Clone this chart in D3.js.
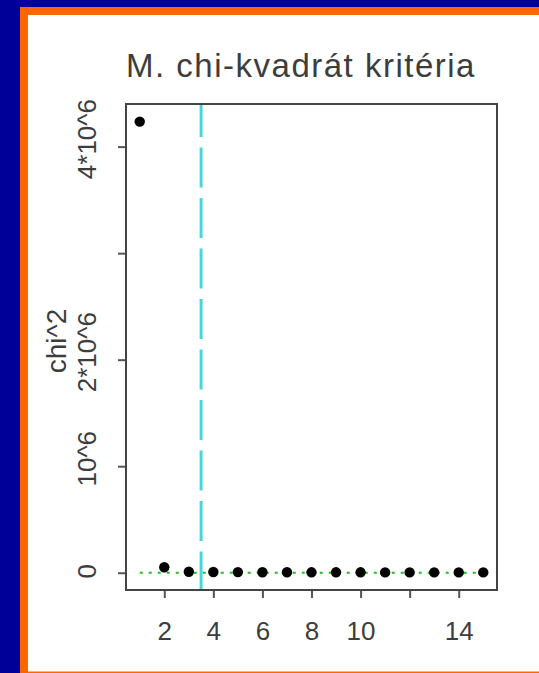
<!DOCTYPE html>
<html>
<head>
<meta charset="utf-8">
<script src="https://cdn.jsdelivr.net/npm/d3@7"></script>
<style>
  html, body { margin: 0; padding: 0; background: #000099; }
  svg { display: block; }
  text { font-family: "Liberation Sans", Arial, Helvetica, sans-serif; }
</style>
</head>
<body>
<svg id="chart" width="539" height="673"></svg>
<script>
// ---- data ----
const clusters = [1, 2, 3, 4, 5, 6, 7, 8, 9, 10, 11, 12, 13, 14, 15];
const chiValues = [4235000, 52000, 9000, 7000, 6000, 5000, 5000, 4000, 4000, 4000, 3000, 3000, 3000, 3000, 3000];
const critValues = [0, 0, 0, 0, 0, 0, 0, 0, 0, 0, 0, 0, 0, 0, 0];
const cutoff = 3.5;
const xTickValues = [2, 4, 6, 8, 10, 12, 14];
const xTickLabels = ["2", "4", "6", "8", "10", "", "14"];
const yTickValues = [0, 1000000, 2000000, 3000000, 4000000];
const yTickLabels = ["0", "10^6", "2*10^6", "", "4*10^6"];
const titleText = "M. chi-kvadrát kritéria";
const yLabelText = "chi^2";

// ---- layout ----
const W = 539, H = 673;
const box = { left: 126, top: 104, right: 497, bottom: 590 };

const svg = d3.select("#chart");

// frame
svg.append("rect").attr("x", 0).attr("y", 0).attr("width", W).attr("height", H).attr("fill", "#000099");
svg.append("rect").attr("x", 20).attr("y", 7).attr("width", W - 20).attr("height", H - 7).attr("fill", "#ff6600");
svg.append("rect").attr("x", 28).attr("y", 15).attr("width", W - 28).attr("height", 656.5).attr("fill", "#ffffff");

// scales
const x = d3.scaleLinear().domain([0.44, 15.56]).range([box.left, box.right]);
const y = d3.scaleLinear().domain([-162000, 4400000]).range([box.bottom, box.top]);

// title
svg.append("text")
  .attr("x", 301).attr("y", 77)
  .attr("text-anchor", "middle")
  .attr("font-size", 33)
  .attr("letter-spacing", 1.5)
  .attr("fill", "#3d3d3d")
  .text(titleText);

// y axis label
svg.append("text")
  .attr("transform", `translate(66, ${(box.top + box.bottom) / 2 - 6}) rotate(-90)`)
  .attr("text-anchor", "middle")
  .attr("font-size", 28)
  .attr("fill", "#3d3d3d")
  .text(yLabelText);

// y axis
const yAxis = d3.axisLeft(y)
  .tickValues(yTickValues)
  .tickSize(8)
  .tickSizeOuter(0)
  .tickFormat(() => "");
const gy = svg.append("g").attr("transform", `translate(${box.left},0)`).call(yAxis);
gy.select(".domain").remove();
gy.selectAll(".tick line").attr("stroke", "#555").attr("stroke-width", 2);
gy.selectAll(".tick").each(function(d, i) {
  const lab = yTickLabels[i];
  const shift = lab.length > 1 ? 8 : 2;
  d3.select(this).append("text")
    .attr("transform", `translate(-30, 0) rotate(-90)`)
    .attr("x", shift)
    .attr("y", 0)
    .attr("text-anchor", "middle")
    .attr("font-size", 26)
    .attr("fill", "#3d3d3d")
    .text(lab);
});

// x axis
const xAxis = d3.axisBottom(x)
  .tickValues(xTickValues)
  .tickSize(8)
  .tickSizeOuter(0)
  .tickFormat(() => "");
const gx = svg.append("g").attr("transform", `translate(0,${box.bottom})`).call(xAxis);
gx.select(".domain").remove();
gx.selectAll(".tick line").attr("stroke", "#555").attr("stroke-width", 2);
gx.selectAll(".tick").each(function(d, i) {
  d3.select(this).append("text")
    .attr("x", 0)
    .attr("y", 50)
    .attr("text-anchor", "middle")
    .attr("font-size", 26)
    .attr("fill", "#3d3d3d")
    .text(xTickLabels[i]);
});

// green dotted critical line
const line = d3.line().x((d, i) => x(clusters[i])).y(d => y(d));
svg.append("path")
  .datum(critValues)
  .attr("d", line)
  .attr("fill", "none")
  .attr("stroke", "#22bb22")
  .attr("stroke-width", 2)
  .attr("stroke-dasharray", "3 6");

// cyan dashed cutoff line
svg.append("line")
  .attr("x1", x(cutoff)).attr("x2", x(cutoff))
  .attr("y1", box.top).attr("y2", box.bottom)
  .attr("stroke", "#4fd3db")
  .attr("stroke-width", 3)
  .attr("stroke-dasharray", "40 10.5")
  .attr("stroke-dashoffset", 7);

// points
svg.append("g").selectAll("circle")
  .data(chiValues)
  .join("circle")
  .attr("cx", (d, i) => x(clusters[i]))
  .attr("cy", d => y(d))
  .attr("r", 5.2)
  .attr("fill", "#000");

// plot box
svg.append("rect")
  .attr("x", box.left).attr("y", box.top)
  .attr("width", box.right - box.left).attr("height", box.bottom - box.top)
  .attr("fill", "none")
  .attr("stroke", "#444")
  .attr("stroke-width", 2);
</script>
</body>
</html>
